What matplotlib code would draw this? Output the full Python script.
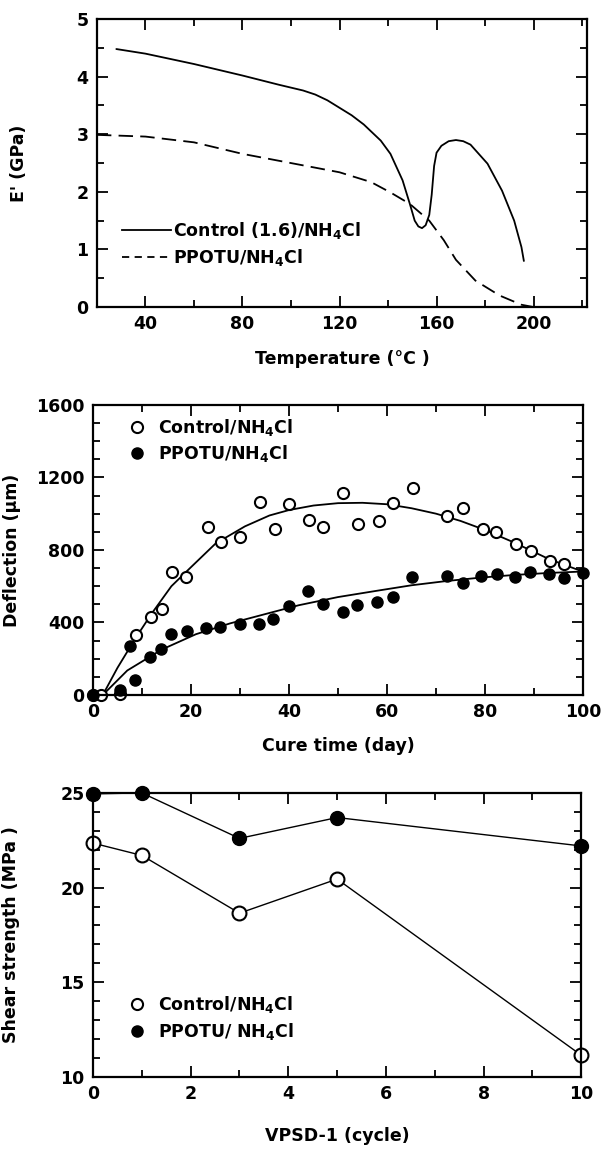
import matplotlib.pyplot as plt
from matplotlib.lines import Line2D
from matplotlib.ticker import MultipleLocator

# --- panel 1: storage modulus vs temperature ---
temp_ctrl = [28, 40, 60, 80, 95, 105, 110, 115, 120, 125, 130, 137, 141, 146, 149, 151, 152.5, 154,
             155.5, 157, 158, 159, 160, 162, 165, 168, 171, 174, 181, 187, 192, 195, 196]
mod_ctrl = [4.48, 4.40, 4.22, 4.02, 3.86, 3.76, 3.69, 3.59, 3.46, 3.33, 3.17, 2.89, 2.66, 2.20, 1.79,
            1.50, 1.40, 1.37, 1.42, 1.60, 1.95, 2.45, 2.68, 2.80, 2.88, 2.90, 2.88, 2.82, 2.49, 2.02,
            1.50, 1.04, 0.80]
temp_ppotu = [20, 40, 60, 80, 100, 120, 133, 141, 149, 157, 163, 168, 176, 186, 195, 200]
mod_ppotu = [2.99, 2.96, 2.86, 2.66, 2.50, 2.34, 2.17, 1.99, 1.79, 1.50, 1.16, 0.82, 0.46, 0.20, 0.04, 0.0]

# --- panel 2: deflection vs cure time ---
day_ctrl = [0, 1.7, 5.5, 8.8, 11.9, 14.1, 16.2, 19.0, 23.4, 26.1, 30.0, 34.1, 37.2, 40.0, 44.0,
            47.0, 51.0, 54.1, 58.3, 61.2, 65.2, 72.2, 75.5, 79.5, 82.3, 86.3, 89.3, 93.3, 96.2]
defl_ctrl = [0, 0, 5, 328, 432, 475, 681, 651, 929, 844, 872, 1064, 914, 1054, 966,
             929, 1116, 944, 961, 1060, 1141, 985, 1032, 914, 897, 831, 794, 741, 722]
day_ppotu = [0, 5.5, 7.6, 8.6, 11.7, 13.9, 15.9, 19.1, 23.0, 26.0, 30.0, 33.8, 36.8, 39.9, 43.8,
             46.9, 51.0, 53.9, 57.9, 61.2, 65.0, 72.2, 75.5, 79.1, 82.4, 86.1, 89.1, 93.1, 96.2, 100]
defl_ppotu = [0, 28, 272, 84, 210, 253, 338, 351, 370, 375, 390, 390, 418, 488, 576,
              501, 456, 497, 510, 540, 651, 657, 617, 655, 666, 651, 681, 666, 647, 675]
# fitted curves
fit_day_ctrl = [2, 5, 8.6, 12, 16, 20, 25, 31, 36, 40, 45, 50, 55, 60, 65, 70, 75, 80, 86, 93, 100]
fit_defl_ctrl = [0, 150, 310, 450, 600, 705, 835, 930, 990, 1020, 1045, 1058, 1060, 1052, 1030,
                 1000, 960, 910, 840, 750, 680]
fit_day_ppotu = [2, 7, 14, 21, 28, 35, 42, 50, 58, 65, 72, 79, 86, 93, 100]
fit_defl_ppotu = [0, 135, 250, 335, 395, 445, 495, 540, 575, 605, 628, 647, 662, 673, 681]

# --- panel 3: shear strength vs VPSD-1 cycles ---
cycles = [0, 1, 3, 5, 10]
shear_ctrl = [22.35, 21.7, 18.65, 20.45, 11.15]
shear_ppotu = [24.95, 25.0, 22.6, 23.7, 22.2]

plt.rcParams['font.family'] = 'DejaVu Sans'
plt.rcParams['font.weight'] = 'bold'
plt.rcParams['mathtext.default'] = 'bf'
FS = 12.5

fig = plt.figure(figsize=(6.02, 11.5), dpi=100)
ax1 = fig.add_axes([0.161, 0.733, 0.814, 0.2504])
ax2 = fig.add_axes([0.1545, 0.3957, 0.814, 0.2522])
ax3 = fig.add_axes([0.1545, 0.0635, 0.811, 0.247])


def style(ax):
    for s in ax.spines.values():
        s.set_linewidth(1.6)
    ax.tick_params(which='both', direction='in', top=True, right=True,
                   labelsize=FS, width=1.3, pad=6)
    ax.tick_params(which='major', length=8)
    ax.tick_params(which='minor', length=5)
    for lab in ax.get_xticklabels() + ax.get_yticklabels():
        lab.set_fontweight('bold')


# panel 1
ax1.plot(temp_ctrl, mod_ctrl, color='black', lw=1.3, solid_capstyle='round')
ax1.plot(temp_ppotu, mod_ppotu, color='black', lw=1.3, dashes=(8, 4))
ax1.set_xlim(20, 222)
ax1.set_ylim(0, 5)
ax1.xaxis.set_major_locator(MultipleLocator(40))
ax1.xaxis.set_minor_locator(MultipleLocator(20))
ax1.yaxis.set_major_locator(MultipleLocator(1))
ax1.yaxis.set_minor_locator(MultipleLocator(0.5))
ax1.set_xticks([40, 80, 120, 160, 200])
style(ax1)
ax1.set_xlabel('Temperature (°C )', fontsize=FS, fontweight='bold')
ax1.set_ylabel("E' (GPa)", fontsize=FS, fontweight='bold')
ax1.yaxis.set_label_coords(-0.14, 0.5)
ax1.xaxis.set_label_coords(0.5, -0.15)
h1 = [Line2D([], [], color='black', lw=1.3),
      Line2D([], [], color='black', lw=1.3, dashes=(4, 3))]
ax1.legend(h1, ['Control (1.6)/NH$_4$Cl', 'PPOTU/NH$_4$Cl'], loc='lower left',
           bbox_to_anchor=(0.02, 0.08), frameon=False,
           handlelength=2.8, handletextpad=0.1, labelspacing=0.35,
           prop={'weight': 'bold', 'size': FS})

# panel 2
ax2.plot(fit_day_ctrl, fit_defl_ctrl, color='black', lw=1.3)
ax2.plot(fit_day_ppotu, fit_defl_ppotu, color='black', lw=1.3)
ax2.plot(day_ctrl, defl_ctrl, 'o', ms=8, mfc='white', mec='black', mew=1.5,
         label='Control/NH$_4$Cl', clip_on=False)
ax2.plot(day_ppotu, defl_ppotu, 'o', ms=8, mfc='black', mec='black',
         label='PPOTU/NH$_4$Cl', clip_on=False)
ax2.set_xlim(0, 100)
ax2.set_ylim(0, 1600)
ax2.xaxis.set_major_locator(MultipleLocator(20))
ax2.xaxis.set_minor_locator(MultipleLocator(10))
ax2.yaxis.set_major_locator(MultipleLocator(400))
ax2.yaxis.set_minor_locator(MultipleLocator(100))
style(ax2)
ax2.set_xlabel('Cure time (day)', fontsize=FS, fontweight='bold')
ax2.set_ylabel('Deflection (µm)', fontsize=FS, fontweight='bold')
ax2.yaxis.set_label_coords(-0.147, 0.5)
ax2.xaxis.set_label_coords(0.5, -0.145)
ax2.legend(loc='upper left', bbox_to_anchor=(0.03, 1.0), frameon=False,
           handletextpad=0.2, labelspacing=0.3, borderaxespad=0.3,
           prop={'weight': 'bold', 'size': FS})

# panel 3
ax3.plot(cycles, shear_ctrl, '-o', color='black', lw=1.0, ms=10, mfc='white',
         mec='black', mew=1.5, clip_on=False)
ax3.plot(cycles, shear_ppotu, '-o', color='black', lw=1.0, ms=10, mfc='black',
         mec='black', clip_on=False)
ax3.set_xlim(0, 10)
ax3.set_ylim(10, 25)
ax3.xaxis.set_major_locator(MultipleLocator(2))
ax3.xaxis.set_minor_locator(MultipleLocator(1))
ax3.yaxis.set_major_locator(MultipleLocator(5))
ax3.yaxis.set_minor_locator(MultipleLocator(1))
style(ax3)
ax3.set_xlabel('VPSD-1 (cycle)', fontsize=FS, fontweight='bold')
ax3.set_ylabel('Shear strength (MPa )', fontsize=FS, fontweight='bold')
ax3.yaxis.set_label_coords(-0.15, 0.5)
ax3.xaxis.set_label_coords(0.5, -0.175)
h3 = [Line2D([], [], ls='none', marker='o', ms=8, mfc='white', mec='black', mew=1.5),
      Line2D([], [], ls='none', marker='o', ms=8, mfc='black', mec='black')]
ax3.legend(h3, ['Control/NH$_4$Cl', 'PPOTU/ NH$_4$Cl'], loc='lower left',
           bbox_to_anchor=(0.03, 0.08), frameon=False,
           handletextpad=0.2, labelspacing=0.35, borderaxespad=0.3,
           prop={'weight': 'bold', 'size': FS})

plt.savefig('out.png', dpi=100)
